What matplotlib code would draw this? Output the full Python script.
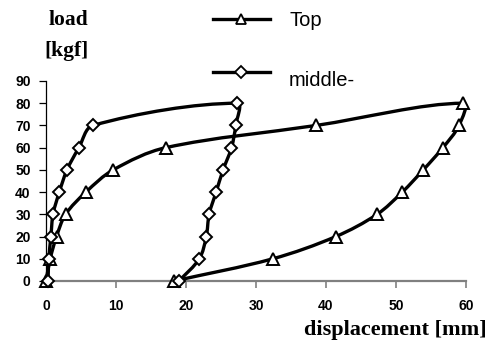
import matplotlib
matplotlib.use("Agg")
import matplotlib.pyplot as plt
import numpy as np
from matplotlib.lines import Line2D
from matplotlib.path import Path
from matplotlib.patches import PathPatch

# Load-displacement loops, loading then unloading (mm, kgf)
top_disp = [0, 0.6, 1.5, 2.8, 5.7, 9.6, 17.1, 38.6, 59.6,
            59.0, 56.7, 53.9, 50.9, 47.3, 41.4, 32.4, 18.3]
top_load = [0, 10, 20, 30, 40, 50, 60, 70, 80,
            70, 60, 50, 40, 30, 20, 10, 0]

mid_disp = [0.3, 0.4, 0.7, 1.0, 1.9, 3.0, 4.7, 6.7, 27.3,
            27.1, 26.5, 25.3, 24.3, 23.3, 22.9, 21.9, 19.0]
mid_load = [0, 10, 20, 30, 40, 50, 60, 70, 80,
            70, 60, 50, 40, 30, 20, 10, 0]

x_ticks = [0, 10, 20, 30, 40, 50, 60]
y_ticks = [0, 10, 20, 30, 40, 50, 60, 70, 80, 90]


def smooth_path(ax, xs, ys):
    """Smoothed-line Bezier path through the points.

    Tangents follow Catmull-Rom, scaled by the neighbouring segment lengths
    on screen so short segments next to long ones don't overshoot.
    """
    pts = ax.transData.transform(np.column_stack([xs, ys]))
    padded = np.vstack([pts[:1], pts, pts[-1:]])
    n = len(pts)
    tangents = []
    for i in range(n):
        p0, p1, p2 = padded[i], padded[i + 1], padded[i + 2]
        tangents.append((p2 - p0, np.linalg.norm(p1 - p0), np.linalg.norm(p2 - p1)))
    verts = [pts[0]]
    codes = [Path.MOVETO]
    for i in range(n - 1):
        a, b = pts[i], pts[i + 1]
        seg = np.linalg.norm(b - a)
        ta, da_in, da_out = tangents[i]
        tb, db_in, db_out = tangents[i + 1]
        c1 = a + ta * seg / max(da_in + da_out, 1e-9) / 3
        c2 = b - tb * seg / max(db_in + db_out, 1e-9) / 3
        verts += [c1, c2, b]
        codes += [Path.CURVE4] * 3
    verts = ax.transData.inverted().transform(np.array(verts))
    return Path(verts, codes)


fig = plt.figure(figsize=(4.99, 3.51), dpi=100)
ax = fig.add_axes([46 / 499, 1 - 281 / 351, 420 / 499, 200 / 351])
ax.set_xlim(0, 60)
ax.set_ylim(0, 90)

for xs, ys, marker, ms, z in [(top_disp, top_load, "^", 8.5, 3),
                              (mid_disp, mid_load, "D", 6.5, 4)]:
    ax.add_patch(PathPatch(smooth_path(ax, xs, ys), fill=False, edgecolor="black",
                           lw=2.4, capstyle="round", joinstyle="round",
                           clip_on=False, zorder=z))
    ax.plot(xs, ys, ls="none", marker=marker, ms=ms, mfc="white", mec="black",
            mew=1.4, clip_on=False, zorder=z + 0.5)

ax.set_xlim(0, 60)
ax.set_ylim(0, 90)
ax.set_xticks(x_ticks)
ax.set_yticks(y_ticks)

tick_font = dict(family="Liberation Sans", weight="bold", size=10)
ax.set_xticklabels([str(v) for v in x_ticks], **tick_font)
ax.set_yticklabels([str(v) for v in y_ticks], **tick_font)

for side in ("top", "right"):
    ax.spines[side].set_visible(False)
ax.spines["left"].set_color("black")
ax.spines["left"].set_linewidth(0.9)
ax.spines["bottom"].set_color("#808080")
ax.spines["bottom"].set_linewidth(1.6)
ax.tick_params(axis="y", direction="out", length=5, width=0.9, color="black", pad=6)
ax.tick_params(axis="x", direction="out", length=5, width=1.2, color="#808080", pad=8)

serif_bold = dict(family="Liberation Serif", weight="bold", size=15.5)
fig.text(68 / 499, 1 - 20 / 351, "load", ha="center", va="center", **serif_bold)
fig.text(66 / 499, 1 - 51 / 351, "[kgf]", ha="center", va="center", **serif_bold)
fig.text(395 / 499, 1 - 330 / 351, "displacement [mm]", ha="center", va="center",
         family="Liberation Serif", weight="bold", size=16)

# Legend drawn by hand in figure coordinates
legend_items = [("Top", "^", 7.5, 19, 20), ("middle-", "D", 6, 72, 80)]
for label, marker, size, ypix, text_ypix in legend_items:
    y = 1 - ypix / 351
    fig.add_artist(Line2D([213 / 499, 270 / 499], [y, y], color="black", lw=2.4,
                          transform=fig.transFigure))
    fig.add_artist(Line2D([241 / 499], [y], marker=marker, ms=size, mfc="white",
                          mec="black", mew=1.3, ls="none", transform=fig.transFigure))
    fig.text(289 / 499, 1 - text_ypix / 351, label, ha="left", va="center",
             family="Liberation Sans", size=14.5)

fig.savefig("out.png", dpi=100)
